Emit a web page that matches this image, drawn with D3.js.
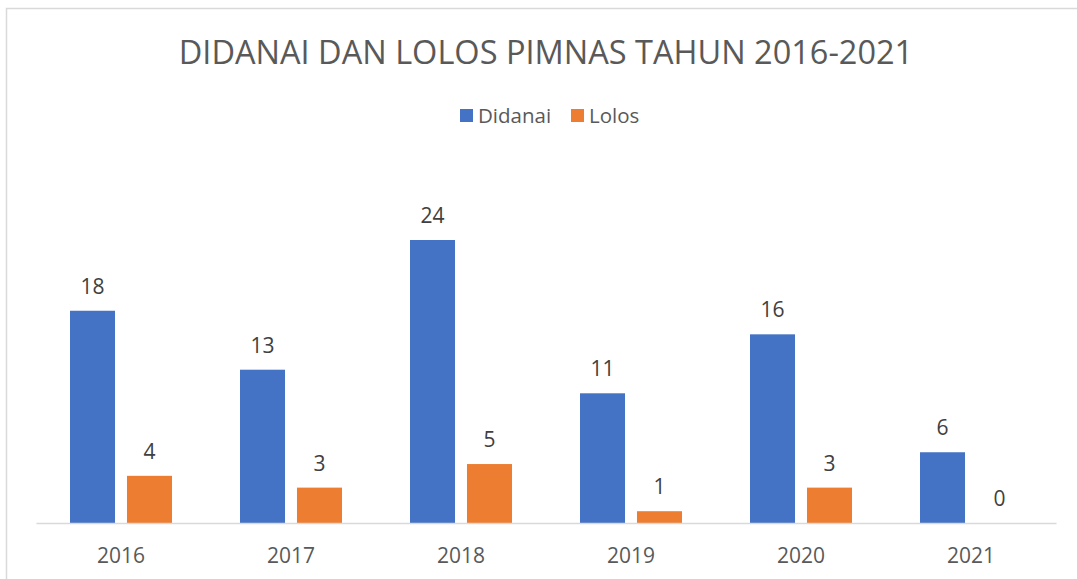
<!DOCTYPE html>
<html>
<head>
<meta charset="utf-8">
<script src="https://cdn.jsdelivr.net/npm/d3@7"></script>
<style>
  body { margin: 0; background: #fff; }
  text { font-family: "Open Sans", "Noto Sans", sans-serif; }
</style>
</head>
<body>
<div id="chart"></div>
<script>
const years = ["2016", "2017", "2018", "2019", "2020", "2021"];
const didanai = [18, 13, 24, 11, 16, 6];
const lolos = [4, 3, 5, 1, 3, 0];
const seriesNames = ["Didanai", "Lolos"];
const seriesColors = ["#4472C4", "#ED7D31"];

const width = 1077,
  height = 579;

const svg = d3
  .select("#chart")
  .append("svg")
  .attr("width", width)
  .attr("height", height);

// chart frame
svg
  .append("rect")
  .attr("x", 6.5)
  .attr("y", 8.5)
  .attr("width", width + 10)
  .attr("height", height + 10)
  .attr("fill", "#fff")
  .attr("stroke", "#d9d9d9")
  .attr("stroke-width", 1.5);

svg
  .append("text")
  .attr("x", 546)
  .attr("y", 64)
  .attr("text-anchor", "middle")
  .attr("fill", "#595959")
  .style("font-size", "32.5px")
  .text("DIDANAI DAN LOLOS PIMNAS TAHUN 2016-2021");

const x0 = d3.scaleBand().domain(years).range([36, 1056]);
const xs = d3.scaleBand().domain(seriesNames).range([0, 102]).paddingInner(0.21);
const y = d3.scaleLinear().domain([0, 24]).range([523, 240]);

const data = [didanai, lolos];

// legend
const legend = svg.append("g");
const legendX = [460, 571];
seriesNames.forEach((name, i) => {
  legend
    .append("rect")
    .attr("x", legendX[i])
    .attr("y", 109)
    .attr("width", 13)
    .attr("height", 13)
    .attr("fill", seriesColors[i]);
  legend
    .append("text")
    .attr("x", legendX[i] + 18)
    .attr("y", 123)
    .attr("fill", "#595959")
    .style("font-size", "20.5px")
    .text(name);
});

const groups = svg
  .selectAll("g.year")
  .data(years)
  .enter()
  .append("g")
  .attr("class", "year")
  .attr("transform", (d) => `translate(${x0(d) + 34},0)`);

seriesNames.forEach((name, s) => {
  groups
    .append("rect")
    .attr("x", xs(name))
    .attr("y", (d, i) => y(data[s][i]))
    .attr("width", xs.bandwidth())
    .attr("height", (d, i) => y(0) - y(data[s][i]))
    .attr("fill", seriesColors[s]);
  groups
    .append("text")
    .attr("x", xs(name) + xs.bandwidth() / 2)
    .attr("y", (d, i) => y(data[s][i]) - 17)
    .attr("text-anchor", "middle")
    .attr("fill", "#404040")
    .style("font-size", "21px")
    .text((d, i) => data[s][i]);
});

// baseline + category axis
const xAxis = svg
  .append("g")
  .attr("transform", `translate(0,${y(0)})`)
  .call(d3.axisBottom(x0).tickSize(0));
xAxis.select(".domain").attr("stroke", "#d9d9d9").attr("stroke-width", 1.5);
xAxis
  .selectAll("text")
  .attr("y", 40)
  .attr("dy", 0)
  .attr("fill", "#595959")
  .style("font-size", "21px")
  .style("font-family", "'Open Sans', 'Noto Sans', sans-serif");
</script>
</body>
</html>
